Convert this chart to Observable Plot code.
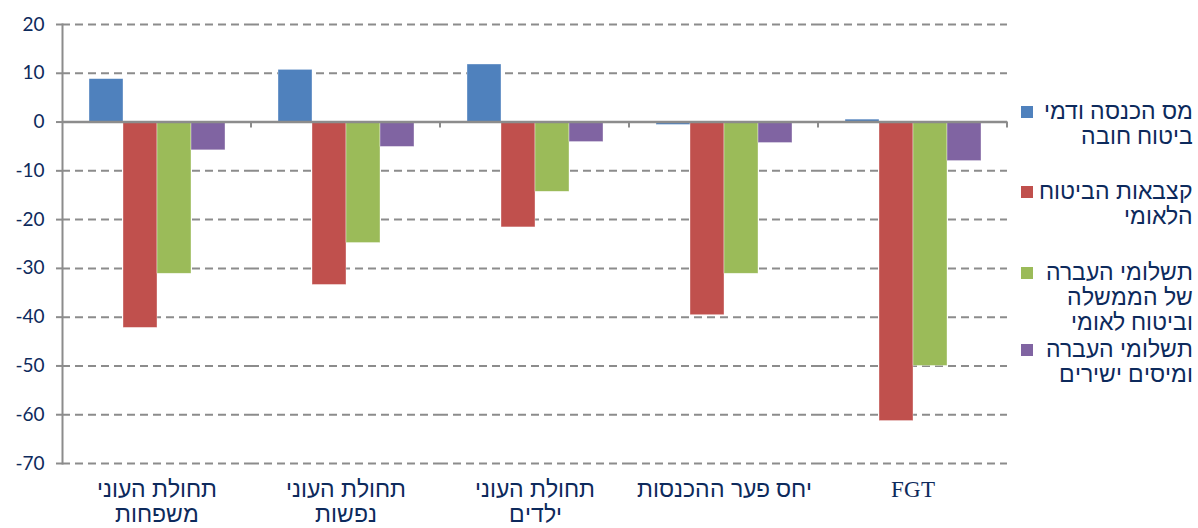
<!DOCTYPE html>
<html>
<head>
<meta charset="utf-8">
<script src="https://cdn.jsdelivr.net/npm/d3@7"></script>
<script src="https://cdn.jsdelivr.net/npm/@observablehq/plot@0.6"></script>
<style>
  @font-face { font-family: "HebMix"; src: local("Liberation Sans"), local("LiberationSans"), local("Arimo"); unicode-range: U+0590-05FF, U+FB1D-FB4F; }
  @font-face { font-family: "HebMix"; src: local("Liberation Serif"), local("LiberationSerif"), local("Tinos"); unicode-range: U+0000-058F, U+0600-FB1C; }
  html, body { margin: 0; padding: 0; background: #fff; }
  #wrap { position: relative; width: 1198px; height: 528px; overflow: hidden; }
  .leg { position: absolute; left: 1019px; width: 174px; }
  .sw { position: absolute; left: 2px; width: 12px; height: 12px; }
  .lt { position: absolute; right: 0; direction: rtl; text-align: right; white-space: pre;
        font-family: "HebMix", "Liberation Sans", sans-serif; font-size: 23px; line-height: 25px; color: #0D2A5C; }
</style>
</head>
<body>
<div id="wrap"></div>
<script>
// ---- data ----
const categories = ["תחולת העוני\nמשפחות", "תחולת העוני\nנפשות", "תחולת העוני\nילדים", "יחס פער ההכנסות", "FGT"];
const seriesNames = [
  "מס הכנסה ודמי\nביטוח חובה",
  "קצבאות הביטוח\nהלאומי",
  "תשלומי העברה\nשל הממשלה\nוביטוח לאומי",
  "תשלומי העברה\nומיסים ישירים"
];
const incomeTax         = [8.8, 10.7, 11.8, -0.6, 0.5];
const nationalInsurance = [-42.2, -33.4, -21.6, -39.6, -61.3];
const transfers         = [-31.1, -24.8, -14.3, -31.1, -50.0];
const transfersAndTaxes = [-5.8, -5.1, -4.1, -4.3, -8.0];
const yTicks = [20, 10, 0, -10, -20, -30, -40, -50, -60, -70];
const colors = ["#4F81BD", "#C0504D", "#9BBB59", "#8064A2"];

const seriesValues = [incomeTax, nationalInsurance, transfers, transfersAndTaxes];
const rows = [];
categories.forEach((c, i) => seriesValues.forEach((vals, s) => rows.push({category: c, series: seriesNames[s], value: vals[i]})));

const navy = "#0D2A5C";
const gray = "#8C8C8C";

const chart = Plot.plot({
  width: 1198,
  height: 528,
  marginLeft: 61,
  marginRight: 191,
  marginTop: 24,
  marginBottom: 65,
  style: {background: "transparent"},
  fx: {domain: categories, padding: 0, label: null},
  x: {domain: seriesNames, paddingInner: 0, paddingOuter: 0.755, axis: null},
  y: {domain: [-70, 20], label: null},
  color: {domain: seriesNames, range: colors},
  marks: [
    Plot.ruleY(yTicks.filter(d => d !== 0), {stroke: gray, strokeWidth: 2, strokeDasharray: "8,5"}),
    Plot.barY(rows, {fx: "category", x: "series", y: "value", fill: "series", stroke: "white", strokeWidth: 0.6, strokeOpacity: 0.6}),
    Plot.ruleY([0], {stroke: gray, strokeWidth: 2.5}),
    Plot.frame({anchor: "left", facetAnchor: "left", stroke: gray, strokeWidth: 2}),
    Plot.axisY({ticks: yTicks, tickSize: 6, tickPadding: 18, stroke: gray, strokeWidth: 2, text: null, facetAnchor: "left"}),
    Plot.axisY({ticks: yTicks, tickSize: 0, tickPadding: 18, fill: navy, fontSize: 19, fontFamily: "Lato, 'Open Sans', sans-serif", tickFormat: d => d, facetAnchor: "left"}),
    Plot.axisFx({anchor: "bottom", tickSize: 0, tickPadding: 16, fill: navy, fontSize: 23, lineHeight: 1.087, fontFamily: "HebMix, 'Liberation Sans', sans-serif", label: null})
  ]
});
const wrap = document.getElementById("wrap");
wrap.appendChild(chart);

// category boundary ticks on the zero line, placed with the chart's own scales
const fx = chart.scale("fx"), y = chart.scale("y");
const y0 = y.apply(0);
const bounds = categories.map(c => fx.apply(c)).concat([fx.apply(categories[categories.length - 1]) + fx.bandwidth]).slice(1);
d3.select(chart).append("g")
  .attr("stroke", gray).attr("stroke-width", 2)
  .selectAll("line").data(bounds).join("line")
  .attr("x1", d => d).attr("x2", d => d)
  .attr("y1", y0).attr("y2", y0 + 6);

// ---- legend (HTML) ----
const legendTops = [99, 179, 260, 337];
seriesNames.forEach((name, i) => {
  const d = document.createElement("div");
  d.className = "leg";
  d.style.top = legendTops[i] + "px";
  const sw = document.createElement("div");
  sw.className = "sw";
  sw.style.top = "7px";
  sw.style.background = colors[i];
  const t = document.createElement("div");
  t.className = "lt";
  t.textContent = name;
  d.appendChild(sw);
  d.appendChild(t);
  wrap.appendChild(d);
});
</script>
</body>
</html>
